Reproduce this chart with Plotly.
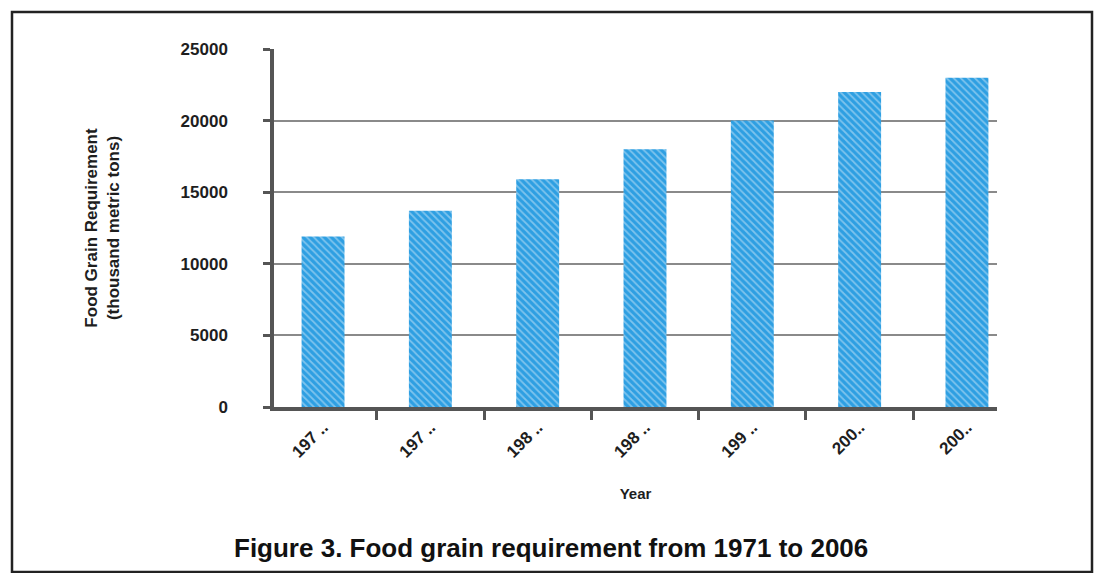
import plotly.graph_objects as go

# Data
tick_labels = ["197 ..", "197 ..", "198 ..", "198 ..", "199 ..", "200..", "200.."]
requirement = [11900, 13700, 15900, 18000, 20000, 22000, 23000]
y_ticks = [0, 5000, 10000, 15000, 20000, 25000]
y_tick_text = ["0", "5000", "10000", "15000", "20000", "25000"]

positions = list(range(len(tick_labels)))

OFF = 8  # page body margin
W, H = 1102 - 2 * OFF, 581 - 2 * OFF
# target image pixels for plot area
IL, IR, IT, IB = 274, 997, 49, 407
L, T = IL - OFF, IT - OFF
R = W - (IR - OFF)
B = H - (IB - OFF)
pw, ph = W - L - R, H - T - B

def px_x(p):
    return (p - OFF - L) / pw

def px_y(p):
    return ((IB) - p) / ph

FONT = "Liberation Sans"
AXC = "#555555"
TXT = "#1e1e1e"

fig = go.Figure()
fig.add_trace(go.Bar(
    x=positions,
    y=requirement,
    width=0.4,
    marker=dict(
        color="#2e9fe2",
        line=dict(width=0),
        pattern=dict(shape="\\", fgcolor="rgba(255,255,255,0.75)", size=5,
                     solidity=0.35, fillmode="overlay"),
    ),
    hoverinfo="x+y",
))

fig.update_layout(
    width=W, height=H,
    margin=dict(l=L, r=R, t=T, b=B, pad=0),
    paper_bgcolor="white", plot_bgcolor="white",
    showlegend=False,
    font=dict(family=FONT, color=TXT),
)

fig.update_xaxes(
    range=[-0.457, 6.28],
    tickmode="array", tickvals=positions, ticktext=tick_labels,
    tickangle=-45,
    tickfont=dict(family=FONT, size=17, weight="bold", color=TXT),
    ticks="",
    ticklabelstandoff=0,
    minor=dict(tick0=0.5, dtick=1, ticks="outside", ticklen=9, tickwidth=2.5, tickcolor=AXC),
    showline=True, linecolor=AXC, linewidth=3.5,
    showgrid=False, zeroline=False,
    title=dict(text="Year", font=dict(family=FONT, size=15, weight="bold", color=TXT), standoff=29),
)

fig.update_yaxes(
    range=[0, 25000],
    tickmode="array", tickvals=y_ticks, ticktext=y_tick_text,
    tickfont=dict(family=FONT, size=17, weight="bold", color=TXT),
    ticks="outside", ticklen=7, tickwidth=2.5, tickcolor=AXC,
    ticklabelstandoff=32,
    showline=True, linecolor=AXC, linewidth=3.5,
    showgrid=True, gridcolor="#8a8a8a", gridwidth=1.5,
    zeroline=False,
    title=dict(text="Food Grain Requirement<br>(thousand metric tons)",
               font=dict(family=FONT, size=17, weight="bold", color=TXT), standoff=58),
)

# Caption
fig.add_annotation(
    text="<b>Figure 3. Food grain requirement from 1971 to 2006</b>",
    xref="paper", yref="paper", x=px_x(551), y=px_y(548),
    showarrow=False, font=dict(family=FONT, size=26, color="#111111"),
    xanchor="center", yanchor="middle",
)

# Outer frame
fig.add_shape(
    type="rect", xref="paper", yref="paper",
    x0=px_x(12), x1=px_x(1092), y0=px_y(572), y1=px_y(12),
    line=dict(color="#222222", width=2.5), fillcolor="rgba(0,0,0,0)", layer="below",
)

fig.write_html("out.html")
